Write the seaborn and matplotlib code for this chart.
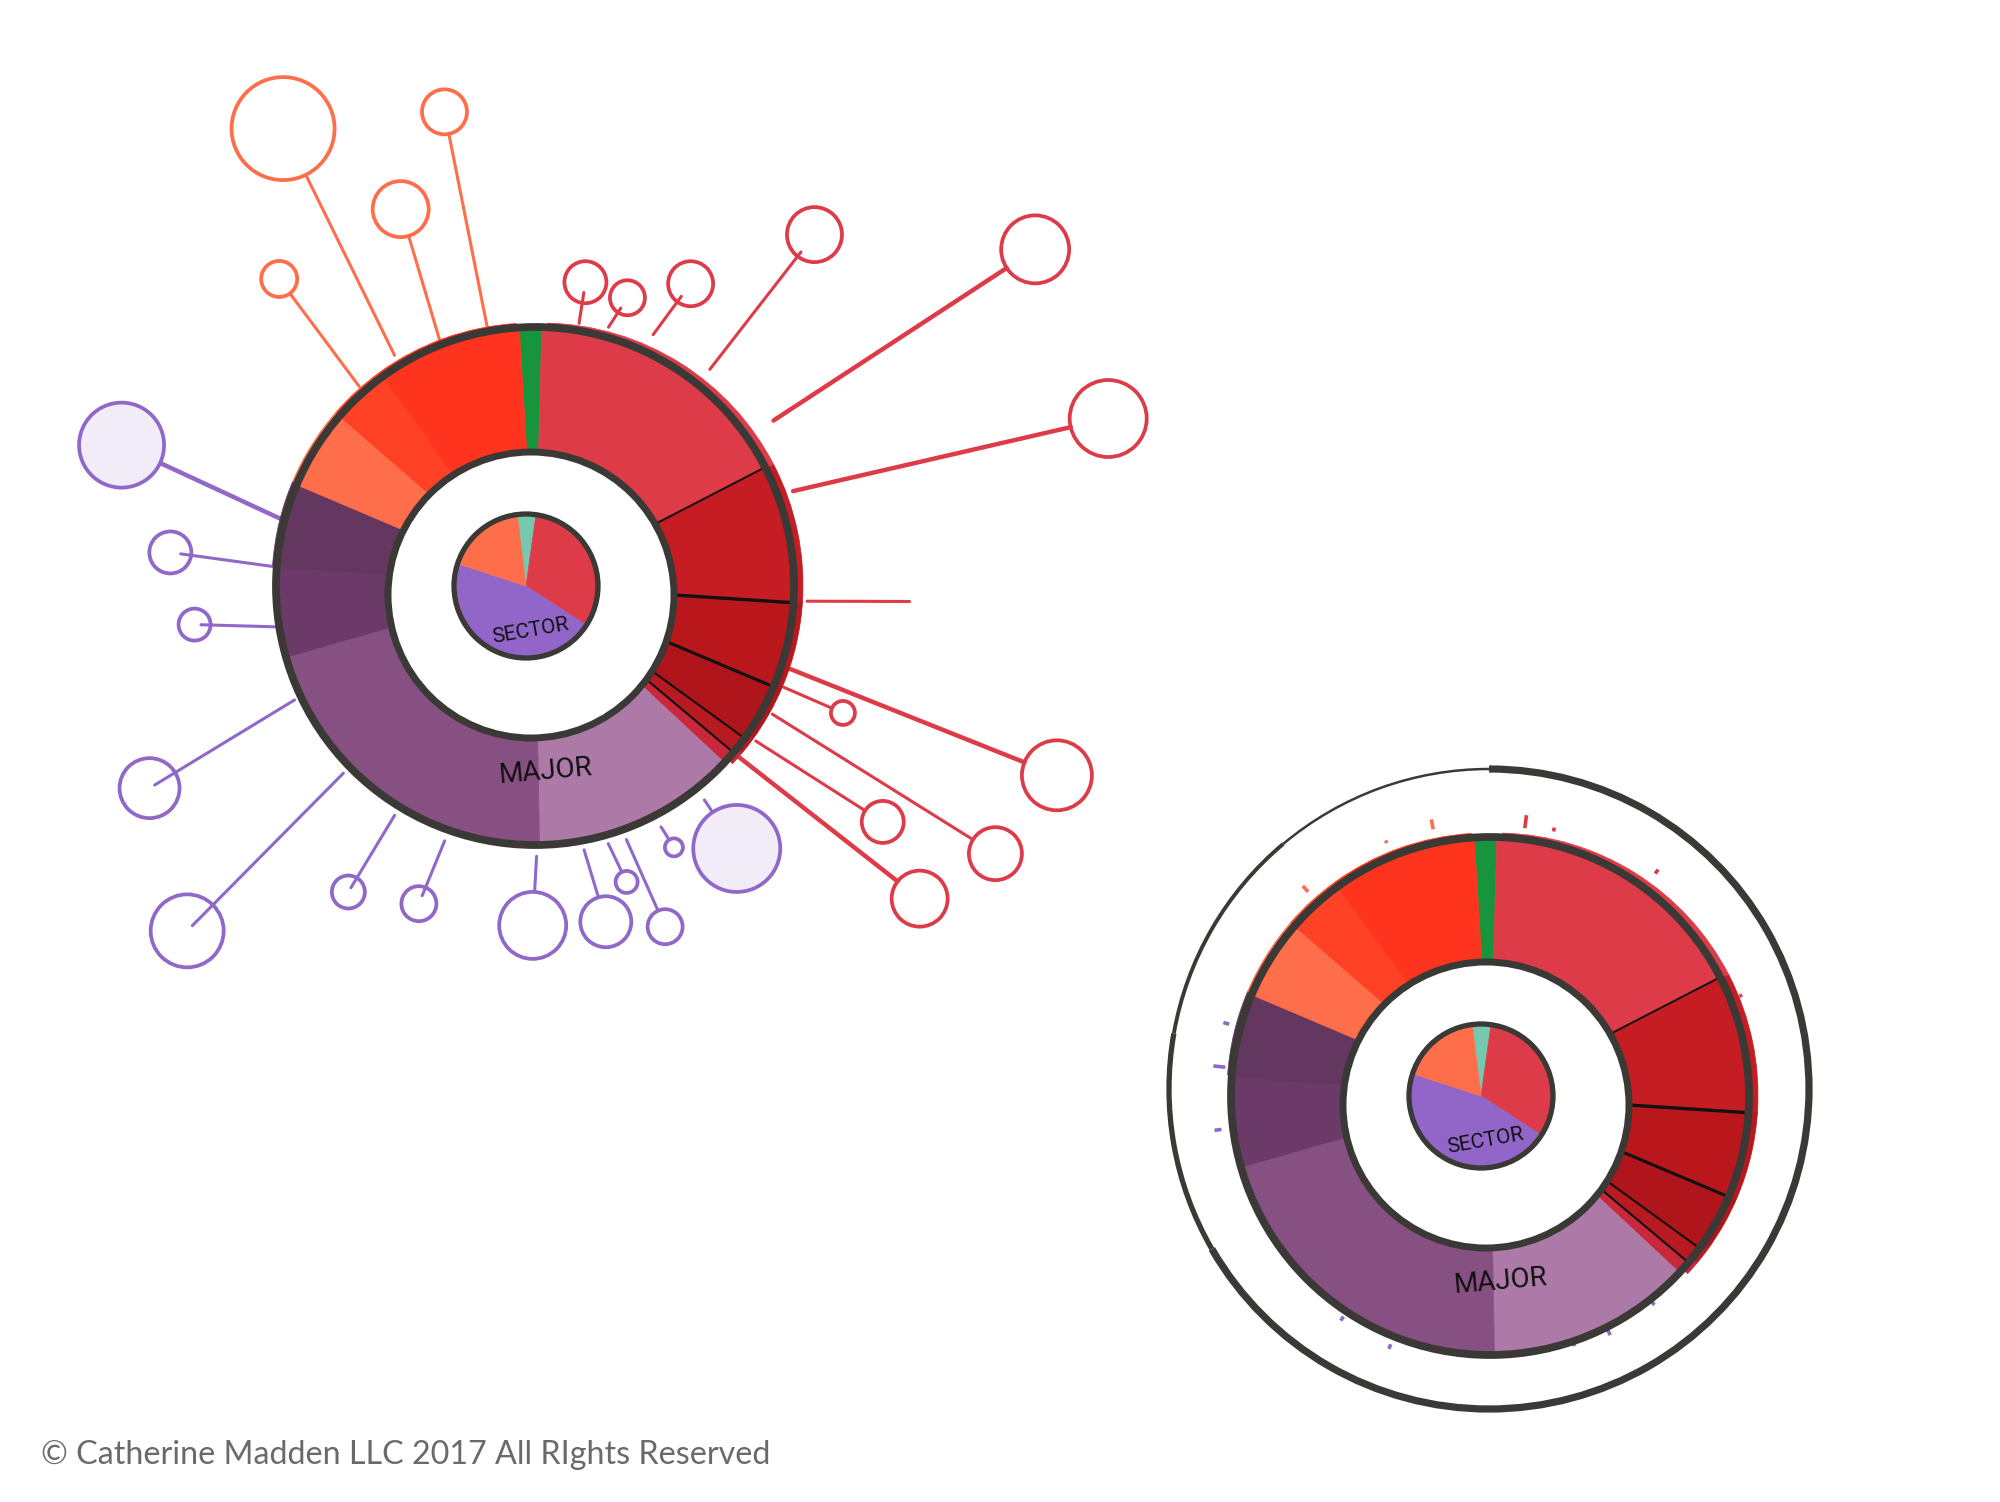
#!/usr/bin/env python
# Sketched donut charts: sector / major rings, one with lollipops and one with ticks
import numpy as np
import pandas as pd
import matplotlib
matplotlib.use("Agg")
from matplotlib import pyplot as plt
from matplotlib.patches import Arc, Circle
import seaborn as sns

# Ring slices, clockwise from the green slice (shares in degrees of the circle)
major_share = [5, 61.2, 31, 19.2, 13.1, 4, 3, 46, 75, 20, 19, 18, 13, 32.5]
major_colors = ["#17953C", "#DE3B49", "#C61C24", "#BA171D", "#AF151B", "#B81A22", "#C8283A",
                "#AD7AA8", "#875082", "#6B3A68", "#643760", "#FF6E4A", "#FF4225", "#FF341E"]
major_start = -3.5
major_dividers = [1, 2, 3, 4, 5]
divider_widths = [1.4, 2.4, 2.2, 1.5, 1.5]

sector_share = [15, 115, 165, 65]
sector_colors = ["#74C9AE", "#DE3B49", "#9166C8", "#FF6E4A"]
sector_start = -7

# Lollipops: clock angles in degrees, reach in ring radii, head diameter in pixels
stem_group = ["orange"] * 4 + ["red"] * 12 + ["purple"] * 13
base_angle = [318.5, 328.4, 338.4, 349, 8.8, 15.1, 24.4, 38.1, 54.5, 69.1, 92.7, 107.7,
              111.9, 118.2, 125, 130, 141.8, 152.7, 160.6, 164.6, 170, 180.3, 200.3,
              212.3, 226.5, 245.4, 261.7, 274.7, 285.1]
base_reach = [1.03, 1.045, 1.02, 1.02, 1.024, 1.033, 1.064, 1.063, 1.104, 1.042, 1.028,
              1.011, 1.011, 1.015, 1.015, 1.0, 1.027, 1.024, 1.016, 1.01, 1.013, 1.022,
              1.027, 1.024, 1.024, 1.022, 1.013, 1.0, 1.013]
head_angle = [320.1, 331, 340.1, 348.9, 8.8, 17.1, 26.6, 38, 55.7, 73.4, 92, 109.8,
              112.2, 120.1, 124.1, 129.1, 142.6, 152.3, 159.4, 163.2, 168.5, 180.9, 200.7,
              212, 225.7, 242.8, 264, 275.6, 289]
head_reach = [1.54, 2.007, 1.54, 1.854, 1.183, 1.161, 1.301, 1.714, 2.297, 2.271, 1.419,
              2.105, 1.257, 2.018, 1.589, 1.877, 1.249, 1.116, 1.379, 1.17, 1.298, 1.286,
              1.286, 1.366, 1.871, 1.667, 1.318, 1.41, 1.681]
head_size = [36, 103, 56, 45, 42, 35, 45, 55, 68, 77, 0, 70, 24, 53, 42, 56, 87, 18, 35,
             22, 51, 67, 35, 33, 73, 60, 32, 42, 85]
stem_inset = [1, 1, 1, 1, 0.5, 0.7, 0.7, 0.8, 1, 1, 0, 1, 1, 1, 1, 1, 1, 1, 1, 1,
              1, 1, 0.5, 0.3, 0.2, 0.2, 0.4, 0.5, 0.6]
stem_heavy = [0, 0, 0, 0, 0, 0, 0, 0, 1, 1, 0, 1, 0, 0, 0, 1, 0, 0, 0, 0, 0, 0, 0, 0, 0,
              0, 0, 0, 1]
pale_head = [16, 28]

# Ticks around the second ring
tick_group = ["orange"] * 3 + ["red"] * 7 + ["purple"] * 8
tick_angle = [318.3, 337.8, 348, 7.4, 13.5, 36.6, 68.2, 111.6, 117.9, 130, 141.8, 153.3,
              161.3, 201.8, 213.6, 262.9, 276.2, 285.4]
tick_reach = [1.059, 1.048, 1.06, 1.056, 1.046, 1.067, 1.031, 1.0, 1.0, 1.0, 1.007, 1.01,
              1.0, 1.03, 1.02, 1.046, 1.039, 1.044]
tick_length = [8, 3, 10, 13, 4, 5, 3, 3, 3, 5, 4, 6, 4, 5, 5, 7, 12, 6]

footer = "\u00a9 Catherine Madden LLC 2017 All RIghts Reserved"
group_colors = {"orange": "#FF6E4A", "red": "#DE3B49", "purple": "#8F68C8"}
ink = "#3A3935"
ring_radius = 259


def clock_xy(cx, cy, angle, reach):
    a = np.radians(angle)
    return cx + np.asarray(reach) * np.sin(a), cy + np.asarray(reach) * np.cos(a)


def flat_pie(ax, share, colors, start, radius, center, zorder):
    wedges, _ = ax.pie(share, colors=colors, startangle=90 - start, counterclock=False,
                       radius=radius, center=center, wedgeprops={"zorder": zorder, "linewidth": 0.5})
    # same colour on the edge so the slices meet without a seam
    for w in wedges:
        w.set_edgecolor(w.get_facecolor())


def draw_donut(ax, cx, cy):
    # paint spilling past the outline: reds to the right, purple and orange to the upper left
    spill_red = [c if 1 <= i <= 6 else "none" for i, c in enumerate(major_colors)]
    spill_left = [c if i >= 10 else "none" for i, c in enumerate(major_colors)]
    flat_pie(ax, major_share, spill_red, major_start, ring_radius + 3, (cx + 6, cy + 1), 2)
    flat_pie(ax, major_share, spill_left, major_start, ring_radius + 1, (cx - 3, cy + 3), 2)
    flat_pie(ax, major_share, major_colors, major_start, ring_radius, (cx, cy), 3)

    edges = major_start + np.cumsum(major_share)
    for i, lw in zip(major_dividers, divider_widths):
        x, y = clock_xy(cx, cy, edges[i], np.array([130, ring_radius]))
        ax.plot(x, y, color="#111111", lw=lw, zorder=4)

    ax.add_patch(Circle((cx, cy), ring_radius, fc="none", ec=ink, lw=5.6, zorder=5))
    ax.add_patch(Circle((cx - 4, cy - 9), 143, fc="white", ec=ink, lw=5, zorder=6))
    flat_pie(ax, sector_share, sector_colors, sector_start, 72, (cx - 9, cy), 7)
    ax.add_patch(Circle((cx - 9, cy), 72, fc="none", ec=ink, lw=3.8, zorder=8))

    ax.text(cx + 11, cy - 185, "MAJOR", rotation=5, ha="center", va="center", fontsize=20,
            family=["Liberation Sans Narrow", "Roboto"], color="#111111", zorder=9)
    ax.text(cx - 5, cy - 45, "SECTOR", rotation=10, ha="center", va="center", fontsize=15,
            family=["Liberation Sans Narrow", "Roboto"], color="#111111", zorder=9)


sns.set_theme(style="white")
fig = plt.figure(figsize=(20, 15.02), dpi=100)
ax = fig.add_axes([0, 0, 1, 1])

left_c = (535, 1502 - 586)
right_c = (1490, 1502 - 1096)
stem_c = (538, 1502 - 588.5)
draw_donut(ax, *left_c)
draw_donut(ax, *right_c)

# lollipop stems and heads on the first ring
heads = pd.DataFrame({"group": stem_group, "angle": head_angle, "reach": head_reach,
                      "size": head_size, "inset": stem_inset, "heavy": stem_heavy})
heads["x"], heads["y"] = clock_xy(*stem_c, heads["angle"], heads["reach"] * 262)
bx, by = clock_xy(*stem_c, np.array(base_angle), np.array(base_reach) * 262)

dist = np.hypot(heads["x"] - bx, heads["y"] - by)
frac = 1 - heads["inset"] * heads["size"] / 2 / dist
tip_x = bx + (heads["x"] - bx) * frac
tip_y = by + (heads["y"] - by) * frac

stems = pd.concat([
    pd.DataFrame({"stem": heads.index, "group": stem_group, "heavy": stem_heavy, "x": bx, "y": by}),
    pd.DataFrame({"stem": heads.index, "group": stem_group, "heavy": stem_heavy, "x": tip_x, "y": tip_y}),
])
sns.lineplot(data=stems, x="x", y="y", units="stem", estimator=None, sort=False, hue="group",
             palette=group_colors, size="heavy", sizes={0: 2.2, 1: 3.2}, legend=False, ax=ax, zorder=1)

shown = heads[heads["size"] > 0].copy()
shown["area"] = (shown["size"] * 0.72) ** 2
sns.scatterplot(data=shown, x="x", y="y", hue="group", palette=group_colors, size="area",
                sizes=(shown["area"].min(), shown["area"].max()), legend=False, ax=ax,
                linewidth=2.7, zorder=1.5)
points = ax.collections[-1]
points.set_edgecolors(points.get_facecolors())
faces = ["#F2ECF8" if i in pale_head else "none" for i in shown.index]
points.set_facecolors(faces)

# ticks around the second ring
for g, ang, rch, ln in zip(tick_group, tick_angle, tick_reach, tick_length):
    x, y = clock_xy(*right_c, ang, np.array([rch * 262 - ln / 2, rch * 262 + ln / 2]))
    ax.plot(x, y, color=group_colors[g], lw=2.6, zorder=1, solid_capstyle="butt")

# enclosing circle, thin where the pen starts on the upper left
halo = (1489, 1502 - 1089)
for theta1, theta2, lw in [(90, 130, 1.8), (130, 170, 2.8), (170, 210, 3.8), (210, 450, 5.2)]:
    ax.add_patch(Arc(halo, 640, 640, theta1=theta1, theta2=theta2, ec=ink, lw=lw, zorder=2))

ax.text(41, 1502 - 1464, footer, fontsize=23.2, color="#6A6A6A", family="Lato", va="baseline")

ax.set_aspect("equal")
ax.set_xlim(0, 2000)
ax.set_ylim(0, 1502)
ax.axis("off")
fig.savefig("out.png", dpi=100, facecolor="white")
